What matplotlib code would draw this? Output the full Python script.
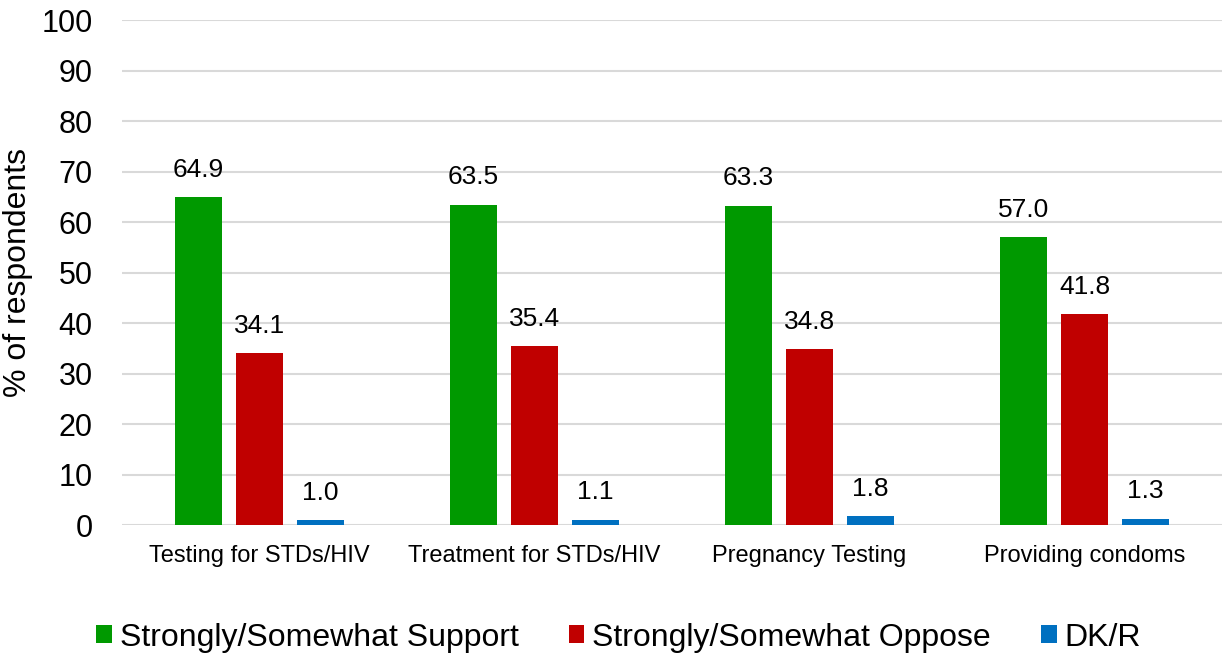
import numpy as np
import matplotlib
matplotlib.use('Agg')
import matplotlib.pyplot as plt

plt.rcParams['font.family'] = ['Liberation Sans', 'DejaVu Sans']

## data
categories = ['Testing for STDs/HIV', 'Treatment for STDs/HIV',
              'Pregnancy Testing', 'Providing condoms']
support = [64.9, 63.5, 63.3, 57.0]
oppose = [34.1, 35.4, 34.8, 41.8]
dkr = [1.0, 1.1, 1.8, 1.3]
series_names = ['Strongly/Somewhat Support', 'Strongly/Somewhat Oppose', 'DK/R']
colors = ['#009900', '#C00000', '#0070C0']

fig = plt.figure(figsize=(12.25, 6.54), dpi=100)
ax = fig.add_axes([0.0996, 0.197, 0.898, 0.772])

x = np.arange(len(categories))
w = 0.171
off = 0.222
for i, (vals, name, c) in enumerate(zip([support, oppose, dkr], series_names, colors)):
    bars = ax.bar(x + (i - 1) * off, vals, w, color=c, label=name, zorder=2)
    for b, v in zip(bars, vals):
        ax.text(b.get_x() + b.get_width() / 2, v + 3.0, '%.1f' % v,
                ha='center', va='bottom', fontsize=19, color='#000000')

ax.set_xlim(-0.5, len(categories) - 0.5)
ax.set_ylim(0, 100)
ax.set_yticks(range(0, 101, 10))
ax.set_xticks(x)
ax.set_xticklabels(categories, fontsize=17)
ax.tick_params(axis='y', labelsize=22, length=0, pad=21)
ax.tick_params(axis='x', length=0, pad=14)
ax.yaxis.grid(True, color='#D9D9D9', linewidth=1.5, zorder=0)
ax.set_axisbelow(True)
for s in ax.spines.values():
    s.set_visible(False)
ax.set_ylabel('% of respondents', fontsize=23, labelpad=6)

fig.legend(loc='lower center', bbox_to_anchor=(0.505, -0.042), ncol=3, frameon=False,
           fontsize=23, handlelength=0.5, handleheight=0.5, handletextpad=0.25,
           columnspacing=1.55)

plt.savefig('out.png', dpi=100)
